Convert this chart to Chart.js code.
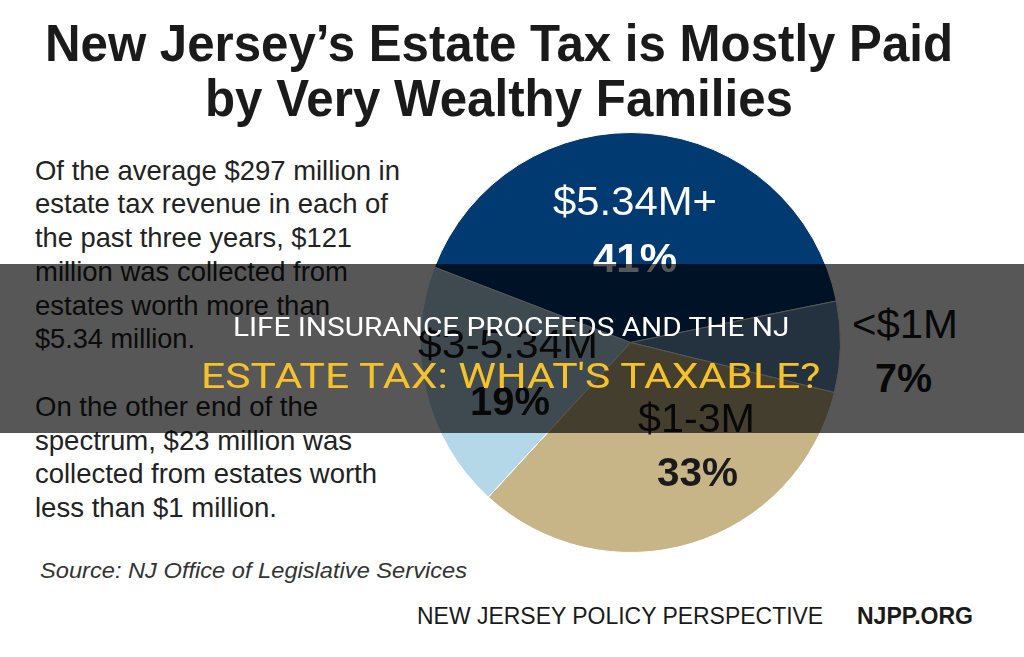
<!DOCTYPE html>
<html><head><meta charset="utf-8">
<script src="https://cdn.jsdelivr.net/npm/chart.js@4"></script>
<style>
html,body{margin:0;padding:0;width:1024px;height:657px;overflow:hidden;background:#fff;}
.t{position:absolute;white-space:nowrap;transform-origin:0 0;margin:0;padding:0;}
#pie{position:absolute;left:420px;top:132px;width:421px;height:421px;}
#band{position:absolute;left:0;top:264px;width:1024px;height:169px;background:rgba(0,0,0,0.66);z-index:5;}
</style></head><body>
<div id="pie"><canvas id="c"></canvas></div>
<div id="band"></div>
<script>
// ---- data ----
const categories = ['$5.34M+', '<$1M', '$1-3M', '$3-5.34M'];
const shares = [41, 7, 33, 19];
const sliceColors = ['#003a70', '#6a93bd', '#c8b587', '#b5d8e8'];
const titleLines = ['New Jersey\u2019s Estate Tax is Mostly Paid', 'by Very Wealthy Families'];
const bodyLines = [
  'Of the average $297 million in',
  'estate tax revenue in each of',
  'the past three years, $121',
  'million was collected from',
  'estates worth more than',
  '$5.34 million.',
  'On the other end of the',
  'spectrum, $23 million was',
  'collected from estates worth',
  'less than $1 million.'
];
const sourceText = 'Source: NJ Office of Legislative Services';
const footerLeft = 'NEW JERSEY POLICY PERSPECTIVE';
const footerRight = 'NJPP.ORG';
const overlayLines = ['LIFE INSURANCE PROCEEDS AND THE NJ', 'ESTATE TAX: WHAT\'S TAXABLE?'];

// ---- layout (positions / styles) ----
const SANS = '"Liberation Sans", Arial, Helvetica, sans-serif';
const mctx = document.createElement('canvas').getContext('2d');
function place(text, left, baseline, width, size, weight, family, color, style, z) {
  const font = (style || 'normal') + ' ' + weight + ' ' + size + 'px ' + family;
  mctx.font = font;
  const m = mctx.measureText(text);
  const asc = m.fontBoundingBoxAscent, desc = m.fontBoundingBoxDescent;
  const d = document.createElement('div');
  d.className = 't';
  d.textContent = text;
  d.style.font = font;
  d.style.lineHeight = (asc + desc) + 'px';
  d.style.left = left + 'px';
  d.style.top = (baseline - asc) + 'px';
  d.style.color = color;
  d.style.transform = 'scaleX(' + (width / m.width) + ')';
  d.style.zIndex = z || 1;
  document.body.appendChild(d);
}

// title
const titlePos = [[45, 61, 908], [205, 116, 588]];
titleLines.forEach((s, i) => place(s, titlePos[i][0], titlePos[i][1], titlePos[i][2], 52, 'bold', SANS, '#1a1a1a'));

// body
const bodyBase = [180, 213, 247, 281, 315, 348, 416, 450, 483, 517];
const bodyW = [365, 353, 317, 313, 295, 160, 283, 317, 342, 242];
bodyLines.forEach((s, i) => place(s, 35, bodyBase[i], bodyW[i], 27.5, 'normal', SANS, '#222'));

place(sourceText, 40, 578, 427, 22, 'normal', SANS, '#333', 'italic');
place(footerLeft, 417, 624, 407, 23, 'normal', SANS, '#1a1a1a');
place(footerRight, 857, 624, 116, 23, 'bold', SANS, '#1a1a1a');

// pie labels (text from data arrays)
const labelPos = [
  // [nameLeft, nameBase, nameW, pctLeft, pctBase, pctW, color]
  [553, 215, 164, 593, 272, 84, '#ffffff'],
  [852, 338, 106, 875, 392, 57, '#1a1a1a'],
  [638, 432, 117, 657, 486, 81, '#1a1a1a'],
  [418, 358, 180, 470, 415, 80, '#1a1a1a']
];
categories.forEach((c, i) => {
  const p = labelPos[i];
  place(c, p[0], p[1], p[2], 41, 'normal', SANS, p[6], 'normal', 2);
  place(shares[i] + '%', p[3], p[4], p[5], 41, 'bold', SANS, p[6], 'normal', 2);
});

// overlay headline
place(overlayLines[0], 233, 336, 557, 25, '400', 'Roboto, sans-serif', '#ffffff', 'normal', 6);
place(overlayLines[1], 201, 388, 621, 35, '400', 'Roboto, sans-serif', '#f5c22b', 'normal', 6);

// ---- chart ----
new Chart(document.getElementById('c'), {
  type: 'pie',
  data: {
    labels: categories,
    datasets: [{
      data: shares,
      backgroundColor: sliceColors,
      borderColor: '#ffffff',
      borderWidth: 1,
      hoverOffset: 0,
      offset: 0
    }]
  },
  options: {
    responsive: true,
    maintainAspectRatio: false,
    animation: false,
    rotation: -69,
    events: [],
    layout: { padding: 0 },
    plugins: { legend: { display: false }, tooltip: { enabled: false } }
  }
});
</script>
</body></html>
